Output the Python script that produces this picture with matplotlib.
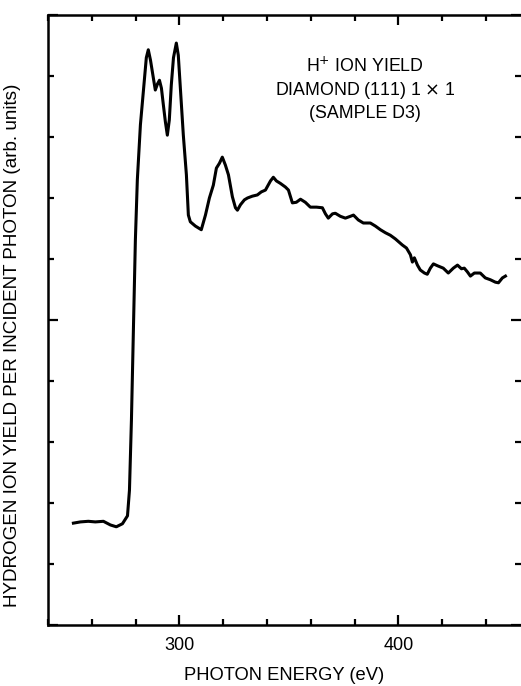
import matplotlib
matplotlib.use("Agg")
import matplotlib.pyplot as plt
from matplotlib.ticker import MultipleLocator

plt.rcParams['font.family'] = ['Liberation Sans', 'DejaVu Sans']

energy = [251.6, 254.8, 258.4, 261.6, 265.3, 268.5, 271.2, 274.0, 276.3, 277.2,
          278.1, 279.0, 279.9, 280.8, 282.2, 283.6, 284.9, 285.8, 286.8, 288.1,
          289.0, 290.0, 290.9, 291.8, 292.7, 293.6, 294.5, 295.4, 296.3, 297.3,
          298.6, 299.5, 300.5, 301.8, 303.2, 304.1, 305.0, 307.3, 310.0, 311.9,
          313.7, 315.5, 316.9, 318.3, 319.6, 321.0, 322.4, 324.2, 325.6, 326.5,
          327.9, 329.7, 331.1, 333.3, 335.6, 337.4, 339.3, 341.6, 342.9, 344.3,
          346.1, 348.4, 349.8, 351.6, 353.4, 355.3, 357.5, 359.8, 362.6, 365.3,
          366.7, 368.0, 369.9, 371.2, 373.5, 375.8, 378.1, 379.5, 381.7, 384.0,
          387.2, 389.5, 391.8, 394.1, 396.3, 398.6, 401.8, 403.7, 405.5, 406.4,
          407.3, 408.7, 410.0, 411.9, 413.2, 414.6, 416.0, 417.8, 420.5, 422.8,
          425.1, 427.0, 428.8, 430.1, 431.5, 432.9, 434.7, 437.4, 439.7, 442.0,
          444.3, 445.7, 447.5, 448.9]
ion_yield = [1.67, 1.69, 1.70, 1.69, 1.70, 1.64, 1.61, 1.66, 1.79, 2.21,
             3.36, 4.84, 6.31, 7.30, 8.20, 8.77, 9.30, 9.43, 9.26, 8.97,
             8.77, 8.87, 8.93, 8.80, 8.52, 8.25, 8.03, 8.28, 8.85, 9.30,
             9.54, 9.34, 8.77, 8.03, 7.38, 6.72, 6.61, 6.54, 6.48, 6.72,
             7.00, 7.21, 7.49, 7.57, 7.67, 7.54, 7.38, 7.02, 6.84, 6.80,
             6.89, 6.97, 7.00, 7.03, 7.05, 7.10, 7.13, 7.28, 7.34, 7.28,
             7.24, 7.18, 7.13, 6.92, 6.93, 6.98, 6.93, 6.85, 6.85, 6.84,
             6.74, 6.67, 6.74, 6.75, 6.70, 6.67, 6.70, 6.72, 6.64, 6.59,
             6.59, 6.54, 6.48, 6.43, 6.39, 6.33, 6.23, 6.18, 6.07, 5.95,
             6.02, 5.90, 5.82, 5.77, 5.75, 5.85, 5.92, 5.89, 5.85, 5.77,
             5.85, 5.90, 5.84, 5.85, 5.79, 5.72, 5.77, 5.77, 5.69, 5.66,
             5.62, 5.61, 5.69, 5.72]

x_major = [300, 400]
x_tick_labels = ["300", "400"]

fig = plt.figure(figsize=(5.21, 6.86), dpi=100)
ax = fig.add_axes([48 / 521, 61 / 686, 473 / 521, 610 / 686])

ax.plot(energy, ion_yield, color="black", lw=2.2, solid_joinstyle="round")

ax.set_xlim(240, 456)
ax.set_ylim(0, 10)

ax.set_xticks(x_major)
ax.set_xticklabels(x_tick_labels)
ax.xaxis.set_minor_locator(MultipleLocator(20))
ax.yaxis.set_major_locator(MultipleLocator(5))
ax.yaxis.set_minor_locator(MultipleLocator(1))
ax.set_yticklabels([])

ax.tick_params(which="both", direction="in", top=True, right=True, width=1.6,
               labelsize=13, pad=9)
ax.tick_params(which="major", length=7)
ax.tick_params(which="minor", length=4)
ax.tick_params(axis="y", which="both", labelleft=False)

for side in ["left", "bottom", "top"]:
    ax.spines[side].set_linewidth(1.8)
ax.spines["right"].set_visible(False)

ax.set_xlabel("PHOTON ENERGY (eV)", fontsize=13.2, labelpad=9)
ax.set_ylabel("HYDROGEN ION YIELD PER INCIDENT PHOTON (arb. units)", fontsize=13.6)
ax.yaxis.set_label_coords(-0.057, 0.459)

ax.text(0.67, 0.879, "H$^{+}$ ION YIELD\nDIAMOND (111) 1 $\\times$ 1\n(SAMPLE D3)",
        transform=ax.transAxes, ha="center", va="center", fontsize=12.8,
        linespacing=1.3)

fig.savefig("out.png", dpi=100)
